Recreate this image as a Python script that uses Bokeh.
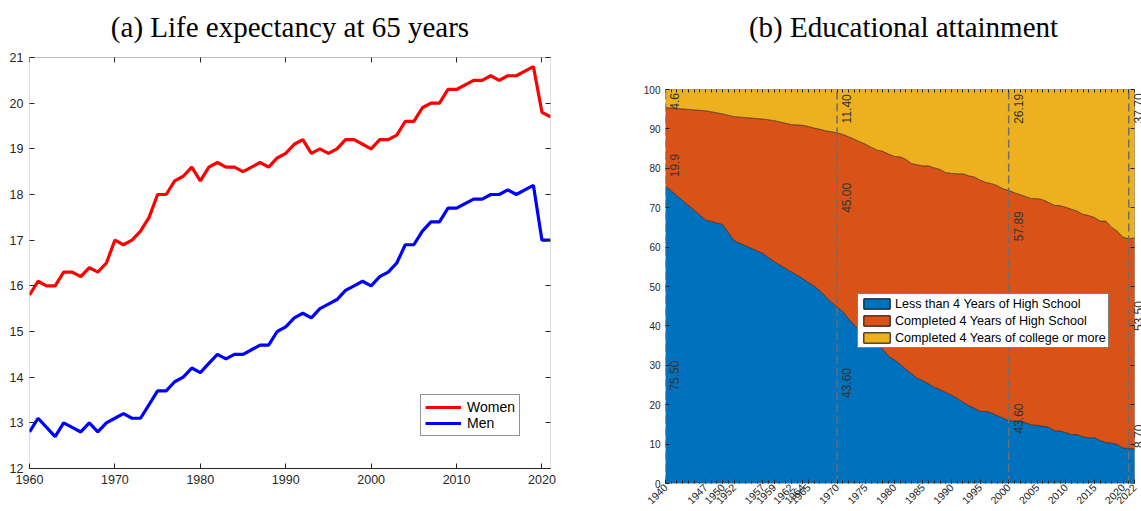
import math
import numpy as np
from bokeh.plotting import figure
from bokeh.models import (Range1d, LinearAxis, FixedTicker, ColumnDataSource,
                          Legend, LegendItem, LabelSet, BoxAnnotation)
from bokeh.core.properties import value
from bokeh.layouts import row
from bokeh.embed import file_html
from bokeh.resources import INLINE

# ---------------- (a) Life expectancy at 65 ----------------
le_years = list(range(1960, 2022))
women = [15.8, 16.1, 16.0, 16.0, 16.3, 16.3, 16.2, 16.4, 16.3, 16.5,
         17.0, 16.9, 17.0, 17.2, 17.5, 18.0, 18.0, 18.3, 18.4, 18.6,
         18.3, 18.6, 18.7, 18.6, 18.6, 18.5, 18.6, 18.7, 18.6, 18.8,
         18.9, 19.1, 19.2, 18.9, 19.0, 18.9, 19.0, 19.2, 19.2, 19.1,
         19.0, 19.2, 19.2, 19.3, 19.6, 19.6, 19.9, 20.0, 20.0, 20.3,
         20.3, 20.4, 20.5, 20.5, 20.6, 20.5, 20.6, 20.6, 20.7, 20.8,
         19.8, 19.7]
men = [12.8, 13.1, 12.9, 12.7, 13.0, 12.9, 12.8, 13.0, 12.8, 13.0,
       13.1, 13.2, 13.1, 13.1, 13.4, 13.7, 13.7, 13.9, 14.0, 14.2,
       14.1, 14.3, 14.5, 14.4, 14.5, 14.5, 14.6, 14.7, 14.7, 15.0,
       15.1, 15.3, 15.4, 15.3, 15.5, 15.6, 15.7, 15.9, 16.0, 16.1,
       16.0, 16.2, 16.3, 16.5, 16.9, 16.9, 17.2, 17.4, 17.4, 17.7,
       17.7, 17.8, 17.9, 17.9, 18.0, 18.0, 18.1, 18.0, 18.1, 18.2,
       17.0, 17.0]
le_xticks = [1960, 1970, 1980, 1990, 2000, 2010, 2020]
le_yticks = list(range(12, 22))
title_a = "(a) Life expectancy at 65 years"

# ---------------- (b) Educational attainment ----------------
edu_years = [1940, 1947, 1950, 1952, 1957, 1959, 1962, 1964, 1965] + list(range(1966, 2023))
less_hs = [75.5, 66.9, 65.7, 61.6, 58.4, 56.3, 53.7, 52.0, 51.0,
           50.1, 48.9, 47.4, 46.0,
           44.8, 43.6, 41.8, 40.2, 38.8, 37.5, 35.9, 35.1, 34.1, 32.3,
           31.4, 30.3, 29.0, 27.9, 26.7, 26.1, 25.3, 24.4, 23.8, 23.1,
           22.4, 21.6, 20.6, 19.8, 19.1, 18.3, 18.3, 17.9, 17.2, 16.6,
           15.9, 15.9, 15.9, 15.4, 14.8, 14.8, 14.5, 14.3, 13.4, 13.3,
           12.9, 12.4, 12.4, 11.8, 11.6, 11.6, 10.9, 10.4, 10.2, 9.9,
           9.0, 8.9, 8.7]
hs_only = [19.9, 27.7, 28.1, 31.5, 34.1, 35.8, 37.4, 38.9, 39.6,
           40.1, 41.0, 42.1, 43.3,
           44.2, 45.0, 46.2, 47.2, 47.9, 48.6, 49.4, 49.5, 50.2, 51.3,
           51.6, 52.6, 53.3, 53.3, 54.2, 54.5, 55.3, 55.7, 55.9, 55.8,
           56.3, 57.0, 58.0, 58.3, 58.7, 58.7, 58.1, 58.2, 58.4, 58.2,
           58.5, 57.9, 57.4, 57.4, 57.5, 57.5, 57.5, 57.0, 57.2, 57.2,
           57.2, 57.2, 56.7, 56.5, 56.4, 55.9, 55.7, 56.2, 54.8, 54.1,
           53.5, 53.2, 53.6]
college = [4.6, 5.4, 6.2, 6.9, 7.5, 7.9, 8.9, 9.1, 9.4,
           9.8, 10.1, 10.5, 10.7,
           11.0, 11.4, 12.0, 12.6, 13.3, 13.9, 14.7, 15.4, 15.7, 16.4,
           17.0, 17.1, 17.7, 18.8, 19.1, 19.4, 19.4, 19.9, 20.3, 21.1,
           21.3, 21.4, 21.4, 21.9, 22.2, 23.0, 23.6, 23.9, 24.4, 25.2,
           25.6, 26.2, 26.7, 27.2, 27.7, 27.7, 28.0, 28.7, 29.4, 29.5,
           29.9, 30.4, 30.9, 31.7, 32.0, 32.5, 33.4, 33.4, 35.0, 36.0,
           37.5, 37.9, 37.7]
edu_tick_years = [1940, 1947, 1950, 1952, 1957, 1959, 1962, 1964, 1965, 1970,
                  1975, 1980, 1985, 1990, 1995, 2000, 2005, 2010, 2015, 2020, 2022]
edu_yticks = list(range(0, 101, 10))
marker_years = [1940, 1970, 2000, 2021]
note_years = [1940, 1940, 1940, 1970, 1970, 1970, 2000, 2000, 2000, 2021, 2021, 2021]
note_texts = ["75.50", "19.9", "4.6", "43.60", "45.00", "11.40",
              "43.60", "57.89", "26.19", "8.70", "53.50", "37.70"]
note_levels = [27.4, 80.7, 97.0, 25.5, 72.5, 95.1, 16.5, 65.3, 95.1, 12.0, 42.5, 95.2]
series_names = ["Less than 4 Years of High School", "Completed 4 Years of High School",
                "Completed 4 Years of college or more"]
title_b = "(b) Educational attainment"

BLUE, ORANGE, YELLOW = "#0072BD", "#D95319", "#EDB120"
AX = "#262626"
SANS = "Liberation Sans"
SERIF = "Liberation Serif"

# Frames of a Bokeh row are top-aligned, so both frames start at TOP and the
# visible boxes are drawn at the data bounds (box (a) top at y=57, box (b) top at y=89).
TOP = 47
TITLE_STANDOFF = 9


def style_axis(ax, size):
    ax.axis_line_color = AX
    ax.major_tick_line_color = AX
    ax.minor_tick_line_color = AX
    ax.major_label_text_color = AX
    ax.major_label_text_font = SANS
    ax.major_label_text_font_size = size
    ax.major_tick_out = 0
    ax.minor_tick_out = 0


def style_title(p, offset=0):
    p.title.text_font = SERIF
    p.title.text_font_size = "29px"
    p.title.text_font_style = "normal"
    p.title.align = "center"
    p.title.text_color = "black"
    p.title.standoff = TITLE_STANDOFF
    p.title.offset = offset


# ---------- figure (a) ----------
x0a, x1a = le_years[0], le_years[-1]
y0a, y1a = le_yticks[0], le_yticks[-1]
FH1 = 468 - TOP
ya_end = y0a + (y1a - y0a) * FH1 / 411
p1 = figure(frame_width=521, frame_height=FH1,
            x_range=Range1d(x0a, x1a), y_range=Range1d(y0a, ya_end),
            output_backend="svg", toolbar_location=None, title=title_a,
            min_border_left=29, min_border_right=25, min_border_top=TOP, min_border_bottom=43)
style_title(p1)
p1.xgrid.visible = False
p1.ygrid.visible = False
p1.outline_line_color = None
p1.add_layout(BoxAnnotation(left=x0a, right=x1a, bottom=y0a, top=y1a,
                            fill_color=None, line_color=AX, line_width=1))

p1.xaxis.ticker = FixedTicker(ticks=le_xticks)
p1.yaxis.ticker = FixedTicker(ticks=le_yticks)
for ax in p1.xaxis + p1.yaxis:
    style_axis(ax, "12.5px")
    ax.major_tick_in = 5
    ax.minor_tick_in = 0
    ax.major_label_standoff = 6
p1.yaxis.axis_line_color = None

top1 = LinearAxis(ticker=FixedTicker(ticks=[], minor_ticks=le_xticks), fixed_location=y1a)
right1 = LinearAxis(ticker=FixedTicker(ticks=[], minor_ticks=le_yticks))
for ax in (top1, right1):
    style_axis(ax, "10px")
    ax.axis_line_color = None
    ax.minor_tick_in = 5
    ax.major_label_standoff = 0
p1.add_layout(top1, "above")
p1.add_layout(right1, "right")

rw = p1.line(le_years, women, line_color="#FF0000", line_width=3.2)
rm = p1.line(le_years, men, line_color="#0000FF", line_width=3.2)
leg1 = Legend(items=[LegendItem(label="Women", renderers=[rw]),
                     LegendItem(label="Men", renderers=[rm])],
              location=(391, 32), margin=0, padding=4, spacing=0,
              glyph_width=36, glyph_height=16, label_height=16, label_standoff=6,
              label_text_font=SANS, label_text_font_size="14px", label_text_color="black",
              border_line_color=AX, border_line_width=1, background_fill_alpha=1)
p1.add_layout(leg1)

# ---------- figure (b) ----------
x0b, x1b = edu_years[0], edu_years[-1]
y0b, y1b = edu_yticks[0], edu_yticks[-1]
FW2, FH2 = 476, 483 - TOP
x_end = x1b + (x1b - x0b) * 7 / 469
y_end = y1b * FH2 / 394
p2 = figure(frame_width=FW2, frame_height=FH2,
            x_range=Range1d(x0b, x_end), y_range=Range1d(y0b, y_end),
            output_backend="svg", toolbar_location=None, title=title_b,
            min_border_left=90, min_border_right=0, min_border_top=TOP, min_border_bottom=28)
style_title(p2, offset=-4)
p2.xgrid.visible = False
p2.ygrid.visible = False
p2.outline_line_color = None

blue_top = np.array(less_hs)
orange_top = blue_top + np.array(hs_only)
yellow_top = orange_top + np.array(college)
p2.varea(x=edu_years, y1=0, y2=blue_top, fill_color=BLUE)
p2.varea(x=edu_years, y1=blue_top, y2=orange_top, fill_color=ORANGE)
p2.varea(x=edu_years, y1=orange_top, y2=yellow_top, fill_color=YELLOW)
p2.line(edu_years, blue_top, line_color="black", line_width=0.7, line_alpha=0.8)
p2.line(edu_years, orange_top, line_color="black", line_width=0.7, line_alpha=0.8)

p2.add_layout(BoxAnnotation(left=x0b, right=x1b, bottom=y0b, top=y1b,
                            fill_color=None, line_color=AX, line_width=1))

p2.segment(x0=marker_years, y0=[y0b] * len(marker_years), x1=marker_years,
           y1=[y1b] * len(marker_years), line_color="#6e6e6e", line_width=1.5,
           line_dash="8 4")

note_src = ColumnDataSource(dict(x=note_years, y=note_levels, text=note_texts))
notes = LabelSet(x="x", y="y", text="text", source=note_src, angle=90, angle_units="deg",
                 text_align="center", text_baseline="top", x_offset=5,
                 text_font=value(SANS), text_font_size=value("12px"),
                 text_color="#333333")
p2.add_layout(notes)

p2.xaxis.ticker = FixedTicker(ticks=edu_tick_years, minor_ticks=list(range(1940, 2023)))
p2.yaxis.ticker = FixedTicker(ticks=edu_yticks)
for ax in p2.xaxis + p2.yaxis:
    style_axis(ax, "10px")
    ax.axis_line_color = None
    ax.major_tick_in = 4
    ax.minor_tick_in = 3
    ax.major_label_standoff = 5
p2.xaxis.major_label_orientation = math.pi / 4
p2.xaxis.major_label_standoff = 2
p2.xaxis.major_label_text_font_size = "10.5px"

top2 = LinearAxis(ticker=FixedTicker(ticks=[], minor_ticks=list(range(1940, 2023))),
                  fixed_location=y1b)
style_axis(top2, "10px")
top2.axis_line_color = None
top2.minor_tick_in = 3
top2.major_label_standoff = 0
p2.add_layout(top2, "above")

right2 = LinearAxis(ticker=FixedTicker(ticks=[], minor_ticks=edu_yticks),
                    fixed_location=x1b)
style_axis(right2, "10px")
right2.axis_line_color = None
right2.minor_tick_in = 0
right2.minor_tick_out = 4
right2.major_label_standoff = 0
p2.add_layout(right2, "left")

nan = float("nan")
proxy = ColumnDataSource(dict(l=[nan], r=[nan], t=[nan], b=[nan]))
proxies = []
for col in (BLUE, ORANGE, YELLOW):
    proxies.append(p2.quad(left="l", right="r", top="t", bottom="b", source=proxy,
                           fill_color=col, line_color="black", line_width=1))
leg2 = Legend(items=[LegendItem(label=n, renderers=[r]) for n, r in zip(series_names, proxies)],
              location=(192, 135), margin=0, padding=2, spacing=2,
              glyph_width=33, glyph_height=13, label_height=15, label_standoff=2,
              label_text_font=SANS, label_text_font_size="12.6px", label_text_color="black",
              border_line_color="black", border_line_width=1, background_fill_alpha=1)
p2.add_layout(leg2)

layout = row(p1, p2)
open("out.html", "w").write(file_html(layout, INLINE))
